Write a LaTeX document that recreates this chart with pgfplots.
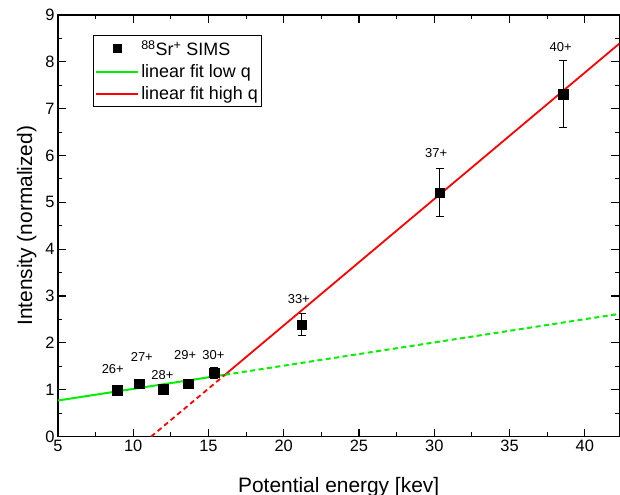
\documentclass[border=0pt]{standalone}
\usepackage{fontspec}
\setmainfont{Liberation Sans}
\usepackage{pgfplots}
\pgfplotsset{compat=1.18}
\definecolor{fitgreen}{RGB}{0,240,0}
\definecolor{fitred}{RGB}{255,0,0}
\pgfplotsset{
  marklegend/.style={legend image code/.code={\draw[mark repeat=2,mark phase=2,##1,mark size=4bp] plot coordinates {(0bp,0bp)(21bp,0bp)(42bp,0bp)};}},
  linelegend/.style={legend image code/.code={\draw[##1] (0bp,0bp) -- (42bp,0bp);}},
}
\begin{document}
\begin{tikzpicture}
\begin{axis}[
  scale only axis, width=562bp, height=422bp,
  xmin=5, xmax=42.3, ymin=0, ymax=9,
  xtick={5,10,...,40}, ytick={0,1,...,9},
  minor x tick num=1, minor y tick num=1,
  tick align=inside,
  major tick length=8bp, minor tick length=4.5bp,
  axis line style={line width=1.2bp},
  every tick/.style={black, line width=1.1bp},
  /pgf/number format/assume math mode=true,
  tick label style={font=\fontsize{16.5}{18}\selectfont},
  xlabel={Potential energy [kev]}, ylabel={Intensity (normalized)},
  label style={font=\fontsize{21}{24}\selectfont},
  xlabel style={yshift=-19bp},
  ylabel style={yshift=2bp},
  legend cell align=left,
  legend style={at={(rel axis cs:0.0623,0.9526)}, anchor=north west,
    draw=black, line width=0.8bp, fill=white,
    font=\fontsize{18}{21}\selectfont, row sep=3.7bp, inner xsep=2bp, inner ysep=3bp},
]
\addplot[only marks, mark=square*, mark size=4.75bp, black, marklegend,
  error bars/.cd, y dir=both, y explicit,
  error bar style={black, line width=0.8bp},
  error mark options={black, mark size=4bp, line width=0.8bp, rotate=90}]
  coordinates {
  (8.95,0.99) +- (0,0.05)
  (10.41,1.13) +- (0,0.06)
  (12.0,1.01) +- (0,0.05)
  (13.65,1.13) +- (0,0.09)
  (15.37,1.36) +- (0,0.12)
  (21.2,2.39) +- (0,0.23)
  (30.37,5.21) +- (0,0.52)
  (38.55,7.31) +- (0,0.72)
  };
\addlegendentry{\textsuperscript{88}Sr\textsuperscript{+} SIMS}
\addplot[color=fitgreen, line width=2bp, linelegend] coordinates {(5,0.77) (16.1,1.32)};
\addlegendentry{linear fit low q}
\addplot[color=fitred, line width=1.8bp, linelegend] coordinates {(16.1,1.32) (42.3,8.39)};
\addlegendentry{linear fit high q}
\addplot[color=fitgreen, line width=2bp, dash pattern=on 5bp off 3.5bp, forget plot] coordinates {(16.1,1.32) (42.3,2.62)};
\addplot[color=fitred, line width=1.8bp, dash pattern=on 5bp off 3.5bp, forget plot] coordinates {(11.19,0) (16.1,1.32)};
\node[font=\fontsize{13}{15}\selectfont] at (axis cs:8.64,1.44) {26+};
\node[font=\fontsize{13}{15}\selectfont] at (axis cs:10.57,1.70) {27+};
\node[font=\fontsize{13}{15}\selectfont] at (axis cs:11.94,1.32) {28+};
\node[font=\fontsize{13}{15}\selectfont] at (axis cs:13.45,1.73) {29+};
\node[font=\fontsize{13}{15}\selectfont] at (axis cs:15.33,1.73) {30+};
\node[font=\fontsize{13}{15}\selectfont] at (axis cs:21.0,2.94) {33+};
\node[font=\fontsize{13}{15}\selectfont] at (axis cs:30.13,6.05) {37+};
\node[font=\fontsize{13}{15}\selectfont] at (axis cs:38.4,8.32) {40+};
\end{axis}
\pgfresetboundingbox
\path[use as bounding box] ([xshift=-58bp,yshift=-58bp]current axis.south west) rectangle ([xshift=0.6bp,yshift=15bp]current axis.north east);
\end{tikzpicture}
\end{document}
